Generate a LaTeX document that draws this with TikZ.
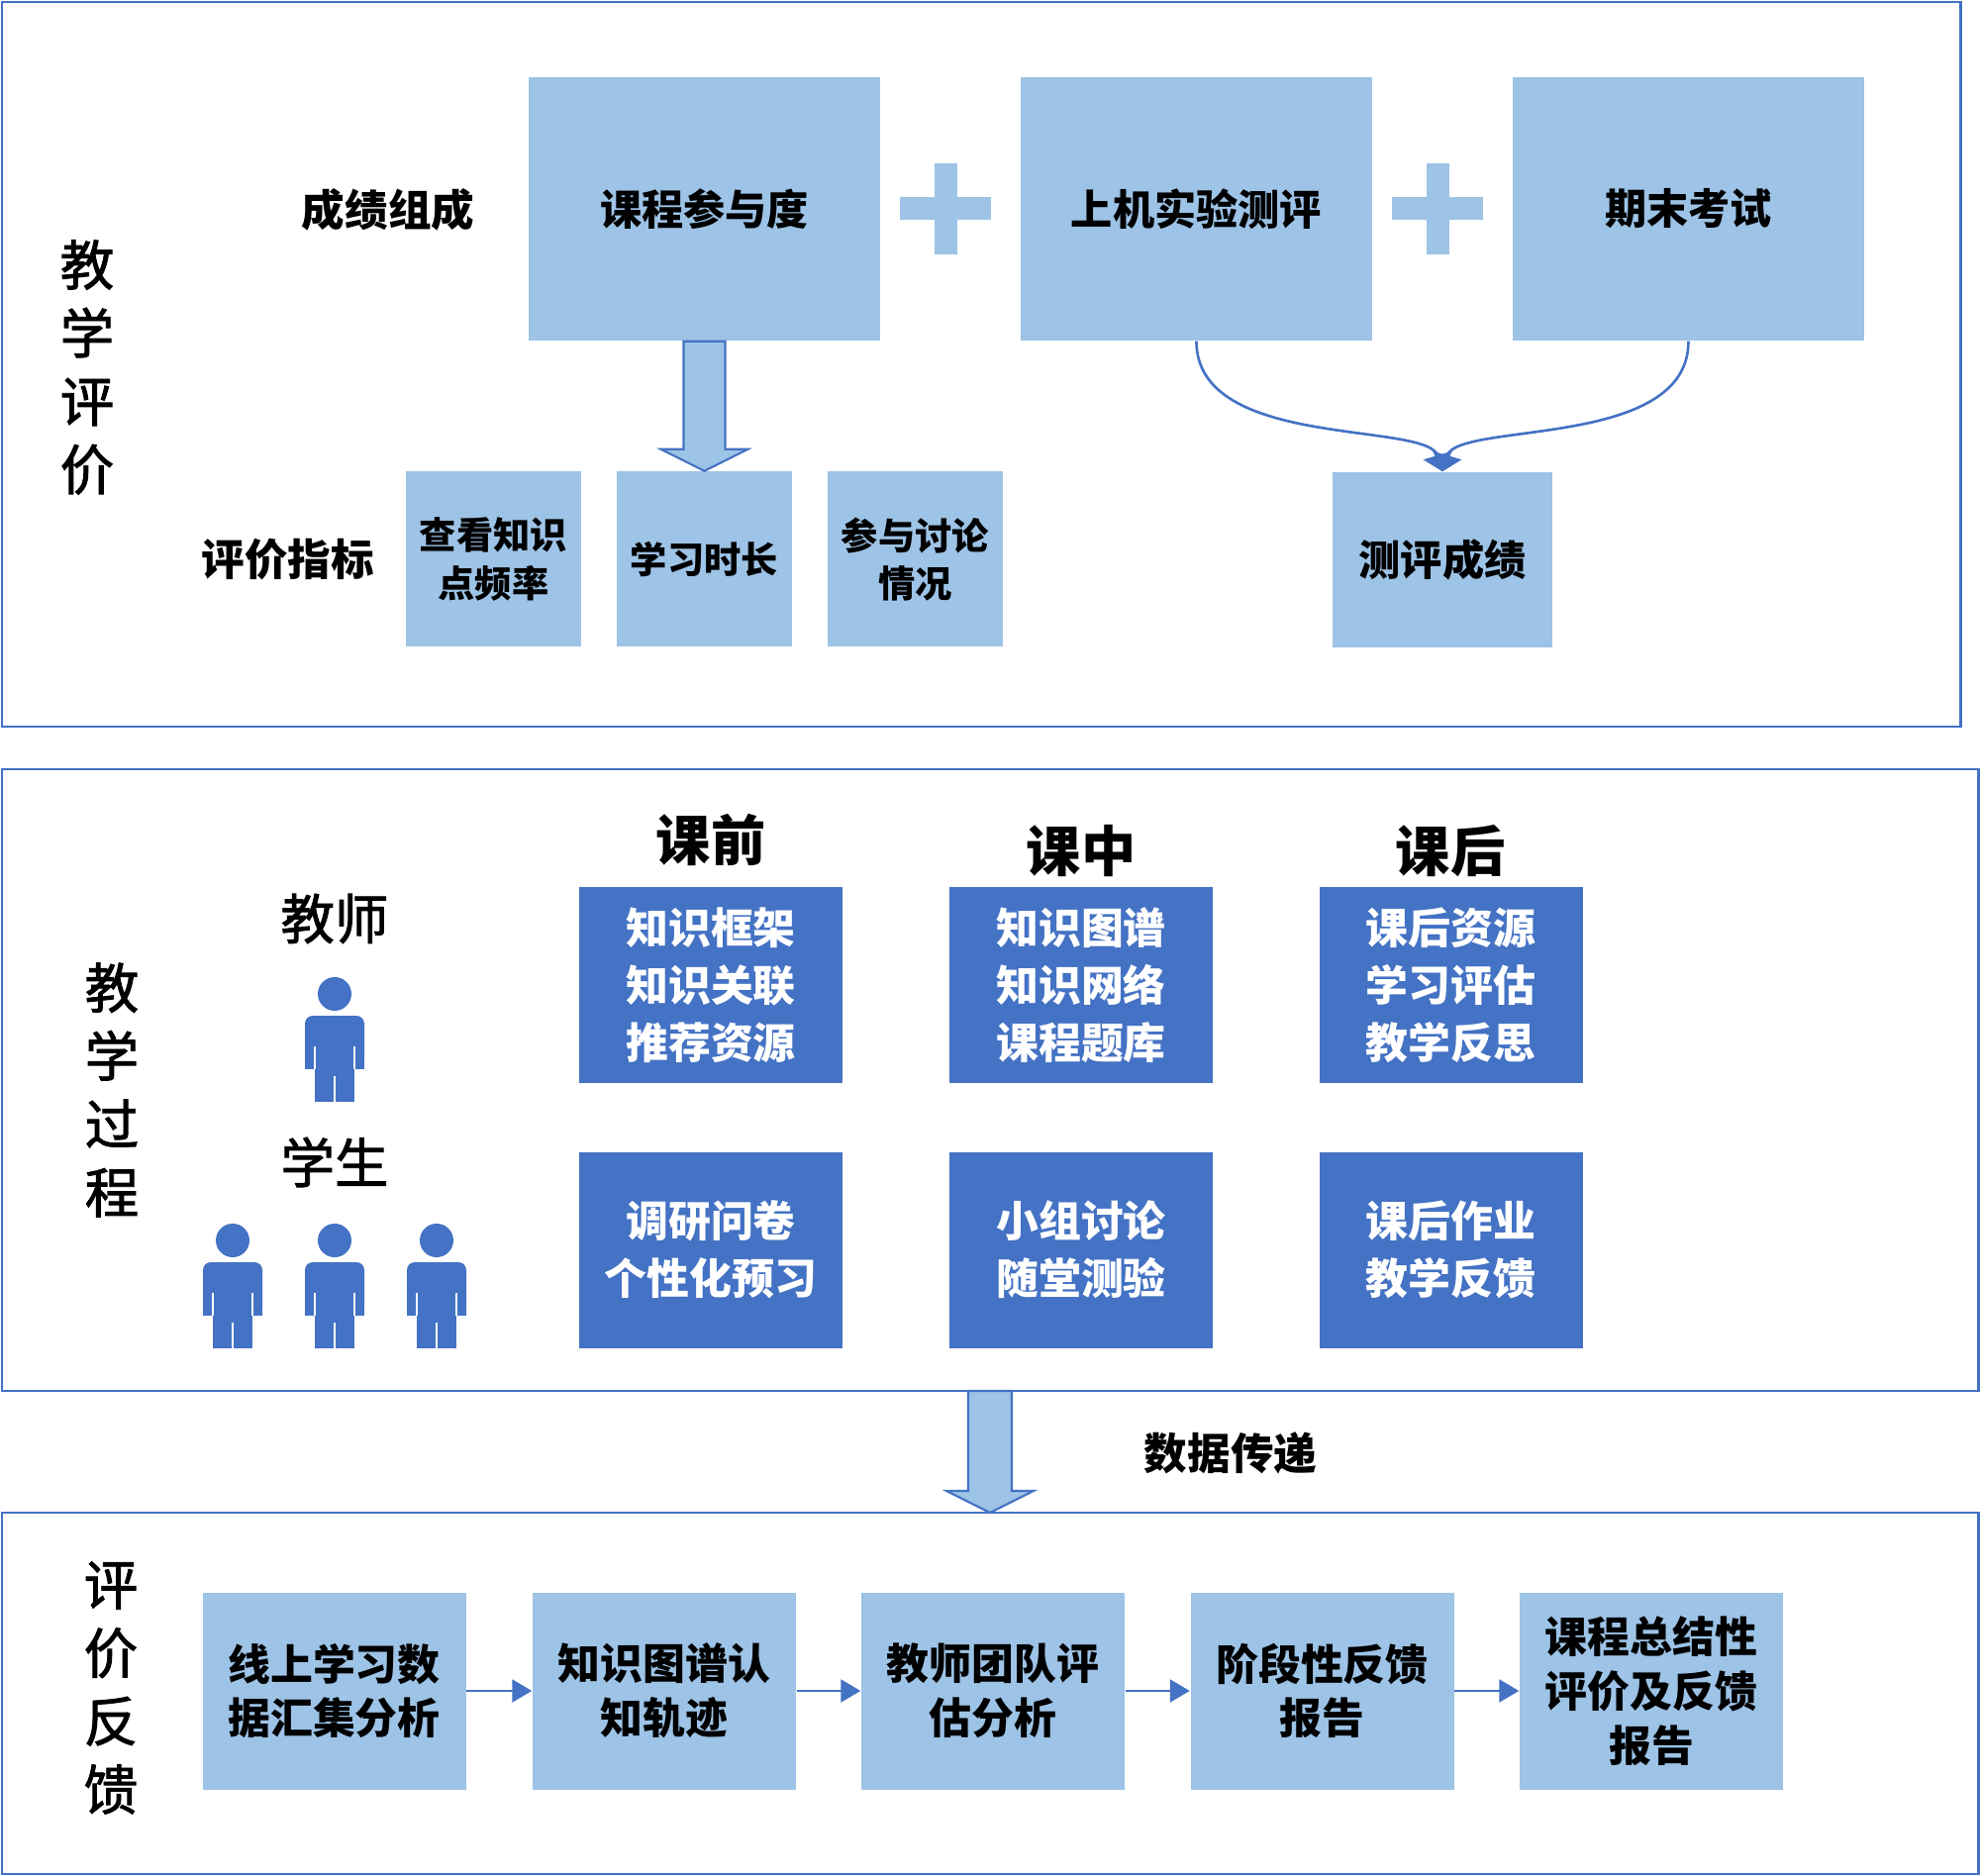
\documentclass[tikz,border=0pt]{standalone}
\usepackage{fontspec}
\setmainfont{Noto Sans CJK SC}
\newfontfamily\midfont{Noto Sans CJK SC}[FakeBold=1.6]
\usetikzlibrary{graphs,positioning,calc,arrows.meta}
\definecolor{pale}{HTML}{9DC3E6}
\definecolor{deep}{HTML}{4472C4}
\tikzset{
    frame/.style ={
        draw=deep,
        line width=0.85pt
    },
    paleblue/.style ={
        shape=rectangle,
        fill=pale,
        text=black,
        align=center,
        inner sep=0pt,
        font=\bfseries\fontsize{12}{16}\selectfont
    },
    big/.style ={
        paleblue,
        minimum width=35.5mm,
        minimum height=26.6mm
    },
    small/.style ={
        paleblue,
        minimum width=17.7mm,
        minimum height=17.7mm,
        font=\bfseries\fontsize{10.6}{13.7}\selectfont
    },
    flow/.style ={
        paleblue,
        minimum width=26.6mm,
        minimum height=19.9mm,
        font=\bfseries\fontsize{12.2}{15.6}\selectfont
    },
    deepblue/.style ={
        shape=rectangle,
        fill=deep,
        text=white,
        align=center,
        inner sep=0pt,
        minimum width=26.6mm,
        minimum height=19.8mm,
        font=\bfseries\fontsize{12.2}{16.5}\selectfont
    },
    side/.style ={
        align=center,
        inner sep=0pt,
        font=\midfont\fontsize{15.5}{19.6}\selectfont
    },
    tag/.style ={
        inner sep=0pt,
        font=\bfseries\fontsize{12.4}{15}\selectfont
    },
    who/.style ={
        inner sep=0pt,
        font=\midfont\fontsize{15.5}{18}\selectfont
    },
    head/.style ={
        inner sep=0pt,
        font=\bfseries\fontsize{15.7}{18}\selectfont
    },
    fat/.style ={
        fill=pale,
        draw=deep,
        line width=0.6pt,
        line join=miter
    },
    curve/.style ={
        draw=deep,
        line width=0.75pt,
        -{Triangle[length=1.7mm,width=3mm]}
    },
    link/.style ={
        draw=deep,
        line width=0.6pt,
        -{Triangle[length=2mm,width=2.3mm]}
    },
    person/.pic ={
        \fill[deep] (0,0) circle (17);
        \fill[deep,rounded corners=0.8mm] (-30,76) -- (-30,22) -- (30,22) -- (30,76) -- cycle;
        \fill[deep] (-30,60) rectangle (30,76);
        \fill[deep] (-20,76) rectangle (20,109);
        \draw[white,line width=0.3pt] (-20,53) -- (-20,76) (20,53) -- (20,76) (0,83) -- (0,109);
    }
}

\begin{document}
\begin{tikzpicture}[x=0.1mm,y=-0.1mm]
    \useasboundingbox (0,0) rectangle (2000,1895);
    \draw[frame] (2,2) rectangle (1980,734);
    \draw[frame] (2,777) rectangle (1998,1405);
    \draw[frame] (2,1528) rectangle (1998,1893);

    % 教学评价
    \node[side] (jxpj) at (88,371) {教\\学\\评\\价};
    \node[tag] (cjzc) at (392,212) {成绩组成};
    \node[tag] (pjzb) at (291,565) {评价指标};
    \node[big] (kccyd) at (711.5,211) {课程参与度};
    \node[big] (sjsy) at (1208.5,211) {上机实验测评};
    \node[big] (qmks) at (1705.5,211) {期末考试};
    \foreach \x in {955,1452} {
        \fill[pale] (\x-46,199.5) rectangle (\x+46,222.5);
        \fill[pale] (\x-11.5,165) rectangle (\x+11.5,257);
    }
    \node[small] (ckzs) at (498.5,565) {查看知识\\点频率};
    \node[small] (xxsc) at (711.5,565) {学习时长};
    \node[small] (cytl) at (924.5,565) {参与讨论\\情况};
    \node[paleblue,minimum width=22.2mm,minimum height=17.7mm] (cpcj) at (1457,565.5) {测评成绩};
    \draw[fat] ($(kccyd.south)+(-21,0)$) -- ($(xxsc.north)+(-21,-22)$) -- ($(xxsc.north)+(-44,-22)$)
        -- (xxsc.north) -- ($(xxsc.north)+(44,-22)$) -- ($(xxsc.north)+(21,-22)$) -- ($(kccyd.south)+(21,0)$) -- cycle;
    \draw[curve] (sjsy.south) .. controls (1208.5,455) and (1442,425) .. (cpcj.north);
    \draw[curve] (qmks.south) .. controls (1705.5,455) and (1472,425) .. (cpcj.north);

    % 教学过程
    \node[side] (jxgc) at (113,1101) {教\\学\\过\\程};
    \node[who] (js) at (338,928) {教师};
    \node[who] (xs) at (338,1174) {学生};
    \pic (p0) at (338,1004) {person};
    \foreach \x [count=\i] in {235,338,441}
        \pic (p\i) at (\x,1253) {person};
    \node[head] (kq) at (718,848) {课前};
    \node[head] (kz) at (1092,860) {课中};
    \node[head] (kh) at (1465,860) {课后};
    \node[deepblue] (kq1) at (718,995) {知识框架\\知识关联\\推荐资源};
    \node[deepblue] (kz1) at (1092,995) {知识图谱\\知识网络\\课程题库};
    \node[deepblue] (kh1) at (1465.5,995) {课后资源\\学习评估\\教学反思};
    \node[deepblue] (kq2) at (718,1262.5) {调研问卷\\个性化预习};
    \node[deepblue] (kz2) at (1092,1262.5) {小组讨论\\随堂测验};
    \node[deepblue] (kh2) at (1465.5,1262.5) {课后作业\\教学反馈};

    % 数据传递
    \coordinate (dt1) at (1000,1405);
    \coordinate (dt2) at (1000,1528);
    \draw[fat] ($(dt1)+(-22,0)$) -- ($(dt2)+(-22,-22)$) -- ($(dt2)+(-44,-22)$)
        -- (dt2) -- ($(dt2)+(44,-22)$) -- ($(dt2)+(22,-22)$) -- ($(dt1)+(22,0)$) -- cycle;
    \node[tag] (sjcd) at (1243,1468) {数据传递};

    % 评价反馈
    \node[side] (pjfk) at (112,1705) {评\\价\\反\\馈};
    \node[flow] (f1) at (337.5,1708) {线上学习数\\据汇集分析};
    \node[flow] (f2) at (671,1708) {知识图谱认\\知轨迹};
    \node[flow] (f3) at (1003,1708) {教师团队评\\估分析};
    \node[flow] (f4) at (1335.5,1708) {阶段性反馈\\报告};
    \node[flow] (f5) at (1668,1708) {课程总结性\\评价及反馈\\报告};
    \graph[edges={link}]{
        (f1)->(f2)->(f3)->(f4)->(f5);
    };
\end{tikzpicture}
\end{document}
